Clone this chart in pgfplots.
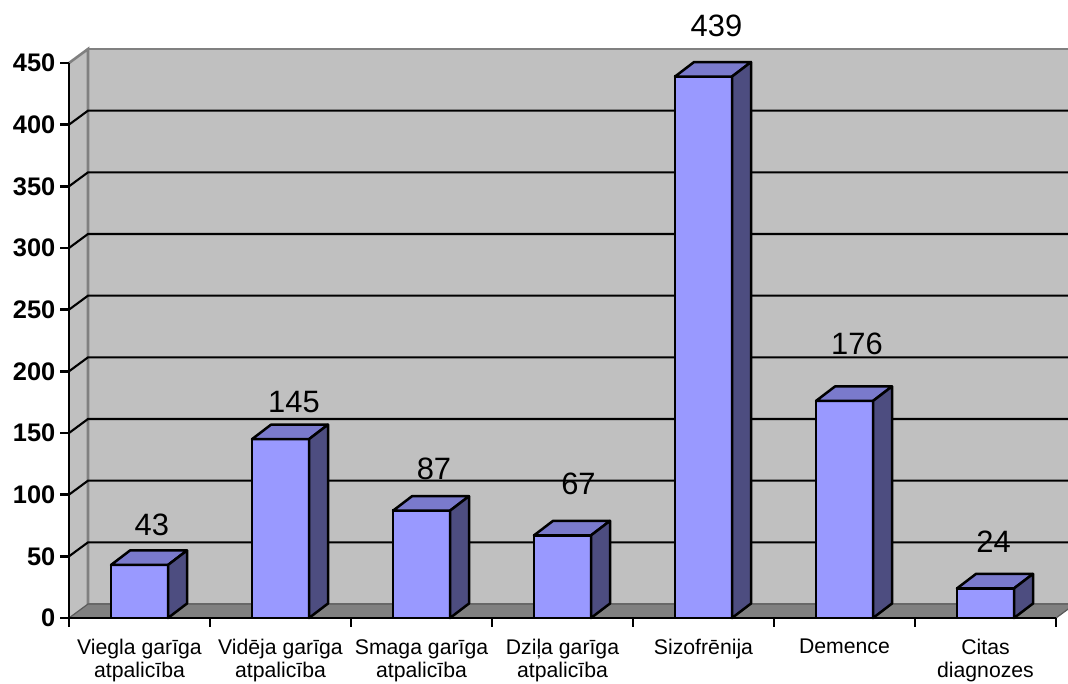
\documentclass[border=0pt]{standalone}
\usepackage{fontspec}
\setmainfont{Liberation Sans}
\usepackage{pgfplots}
\pgfplotsset{compat=1.18}
\usepackage{pgfplotstable}
\definecolor{wall}{HTML}{C0C0C0}
\definecolor{floorc}{HTML}{808080}
\definecolor{edgec}{HTML}{808080}
\definecolor{barfront}{HTML}{9999FF}
\definecolor{bartop}{HTML}{7A7ACC}
\definecolor{barside}{HTML}{4D4D80}

\pgfplotstableread{
x v dx dy
0.5 43 12.3 29
1.5 145 13.5 27
2.5 87 12.5 31
3.5 67 16 41
4.5 439 13 40
5.5 176 12.5 46
6.5 24 8 36
}\datatable

\pgfdeclareplotmark{bar3d}{%
  \pgfmathsetmacro\hh{\val*1.233333}%
  \pgfmathsetmacro\hb{14.5-\hh}%
  \fill[bartop,draw=black,line width=2.5bp,line join=round]
    (-28.5bp,0bp) -- (28.5bp,0bp) -- (47.5bp,14.5bp) -- (-9.5bp,14.5bp) -- cycle;
  \fill[barside,draw=black,line width=2.5bp,line join=round]
    (28.5bp,0bp) -- (47.5bp,14.5bp) -- (47.5bp,\hb bp) -- (28.5bp,-\hh bp) -- cycle;
}

\begin{document}
\begin{tikzpicture}
\path[use as bounding box] (-69bp,-66bp) rectangle (999bp,618bp);
\begin{axis}[
  at={(0,0)}, anchor=south west,
  scale only axis,
  width=987bp, height=555bp,
  xmin=0, xmax=7, ymin=0, ymax=450,
  clip=false,
  axis on top=true,
  axis lines*=left,
  axis line style={black, line width=2.4bp},
  tick align=outside,
  major tick length=8.5bp,
  tick style={black, line width=2.4bp},
  xtick={0,1,...,7},
  xticklabels={},
  ytick={0,50,...,450},
  /pgf/number format/assume math mode=true,
  yticklabel style={font=\fontsize{25.5}{25.5}\selectfont\bfseries, inner sep=5bp},
  extra x ticks={0.5,1.5,...,6.5},
  extra x tick labels={{Viegla garīga\\atpalicība},{Vidēja garīga\\atpalicība},{Smaga garīga\\atpalicība},{Dziļa garīga\\atpalicība},{Sizofrēnija},{Demence},{Citas\\diagnozes}},
  extra x tick style={major tick length=0pt, xticklabel style={font=\fontsize{21.3}{23.5}\selectfont, align=center, anchor=north, inner sep=0pt, yshift=-21bp}},
]
% back wall
\fill[wall, draw=edgec, line width=2.6bp] ([shift={(19bp,14bp)}]axis cs:0,0) rectangle ([shift={(19bp,14bp)}]axis cs:7,450);
% left wall
\fill[wall] (axis cs:0,0) -- (axis cs:0,450) -- ([shift={(19bp,14bp)}]axis cs:0,450) -- ([shift={(19bp,14bp)}]axis cs:0,0) -- cycle;
\draw[edgec, line width=2.6bp] (axis cs:0,450) -- ([shift={(19bp,14bp)}]axis cs:0,450) -- ([shift={(19bp,14bp)}]axis cs:0,0);
% floor
\fill[floorc, draw=edgec!70!black, line width=1.2bp] (axis cs:0,0) -- (axis cs:7,0) -- ([shift={(19bp,14bp)}]axis cs:7,0) -- ([shift={(19bp,14bp)}]axis cs:0,0) -- cycle;
% grid
\pgfplotsinvokeforeach{50,100,...,400}{
  \draw[black, line width=2.1bp] (axis cs:0,#1) -- ([shift={(19bp,14bp)}]axis cs:0,#1) -- ([shift={(19bp,14bp)}]axis cs:7,#1);
}
% bars front
\addplot[ybar, bar width=0.4043, fill=barfront, draw=black, line width=2.5bp] table[x=x,y=v]{\datatable};
% bars top & side + value labels
\addplot[scatter, only marks, mark=bar3d,
  visualization depends on={\thisrow{v} \as \val},
  visualization depends on={\thisrow{dx} \as \dxv},
  visualization depends on={\thisrow{dy} \as \dyv},
  point meta=explicit,
  nodes near coords,
  every node near coord/.append style={font=\fontsize{31}{31}\selectfont, text=black, anchor=base, inner sep=0pt, xshift=\dxv bp, yshift=\dyv bp},
] table[x=x,y=v,meta=v]{\datatable};
\end{axis}
\end{tikzpicture}
\end{document}
